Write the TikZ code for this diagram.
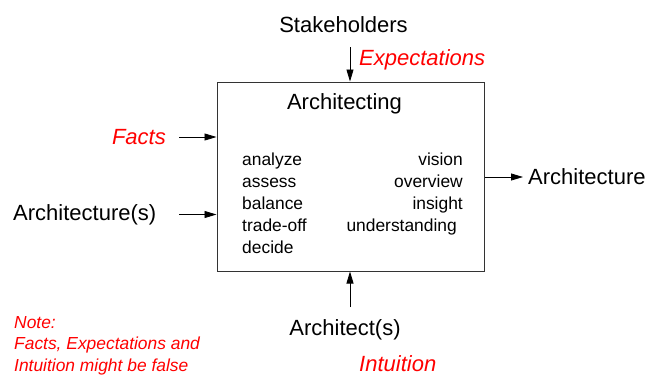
\documentclass[tikz,border=0pt]{standalone}
\usepackage{fontspec}
\setmainfont{Liberation Sans}
\usetikzlibrary{positioning,arrows.meta}
\tikzstyle{block}=[rectangle,draw=black!80,line width=1pt,minimum width=267pt,minimum height=189pt,inner sep=0pt]
\tikzstyle{big}=[inner sep=0pt,font=\fontsize{22}{24}\selectfont]
\tikzstyle{small}=[inner sep=0pt,font=\fontsize{17.4}{22}\selectfont]
\tikzstyle{hint}=[big,red,font=\fontsize{22}{24}\selectfont\itshape]
\tikzstyle{note}=[small,red,align=left,font=\fontsize{17.4}{21.5}\selectfont\itshape]
\tikzstyle{mypath}=[-{Triangle[length=12pt,width=7pt]},line width=0.8pt]
\def\colgap{22}

\begin{document}
\begin{tikzpicture}[x=1pt,y=1pt]
		\useasboundingbox (0,0) rectangle (646,-376);

		% process box
		\node[block] (arch) at (350.5,-176.5) {};
		\node[big] (title) at (344.5,-104) {Architecting};
		%% activities
		\foreach \w [count=\i] in {analyze,assess,balance,trade-off,decide}
			\node[small,anchor=base west] (act\i) at (242,-165-\colgap*\i+\colgap) {\w};
		%% results
		\foreach \w/\x [count=\i] in {vision/463,overview/463,insight/463,understanding/457}
			\node[small,anchor=base east] (res\i) at (\x,-165-\colgap*\i+\colgap) {\w};

		% inputs and outputs
		\node[big] (stake) at (343.5,-24.5) {Stakeholders};
		\node[hint,anchor=west] (expect) at (359,-60) {Expectations};
		\node[hint,anchor=east] (facts) at (166,-137) {Facts};
		\node[big,anchor=west] (archin) at (13,-214.5) {Architecture(s)};
		\node[big,anchor=west] (archout) at (528,-177) {Architecture};
		\node[big] (archt) at (345,-330) {Architect(s)};
		\node[hint,anchor=west] (intuit) at (359,-363.5) {Intuition};

		% note
		\node[note,anchor=north west] (remark) at (14,-316) {Note:\\Facts, Expectations and\\Intuition might be false};

		% Connections
		\coordinate (topin) at (350,-47);
		\coordinate (leftin) at (179,0);
		\coordinate (botin) at (350,-307);
		\draw[mypath] (topin) -- (topin |- arch.north);
		\draw[mypath] (leftin |- facts) -- (facts -| arch.west);
		\draw[mypath] (leftin |- archin) -- (archin -| arch.west);
		\draw[mypath] (archout -| arch.east) -- ([xshift=-5pt]archout.west);
		\draw[mypath] (botin) -- (botin |- arch.south);
	\end{tikzpicture}
\end{document}
